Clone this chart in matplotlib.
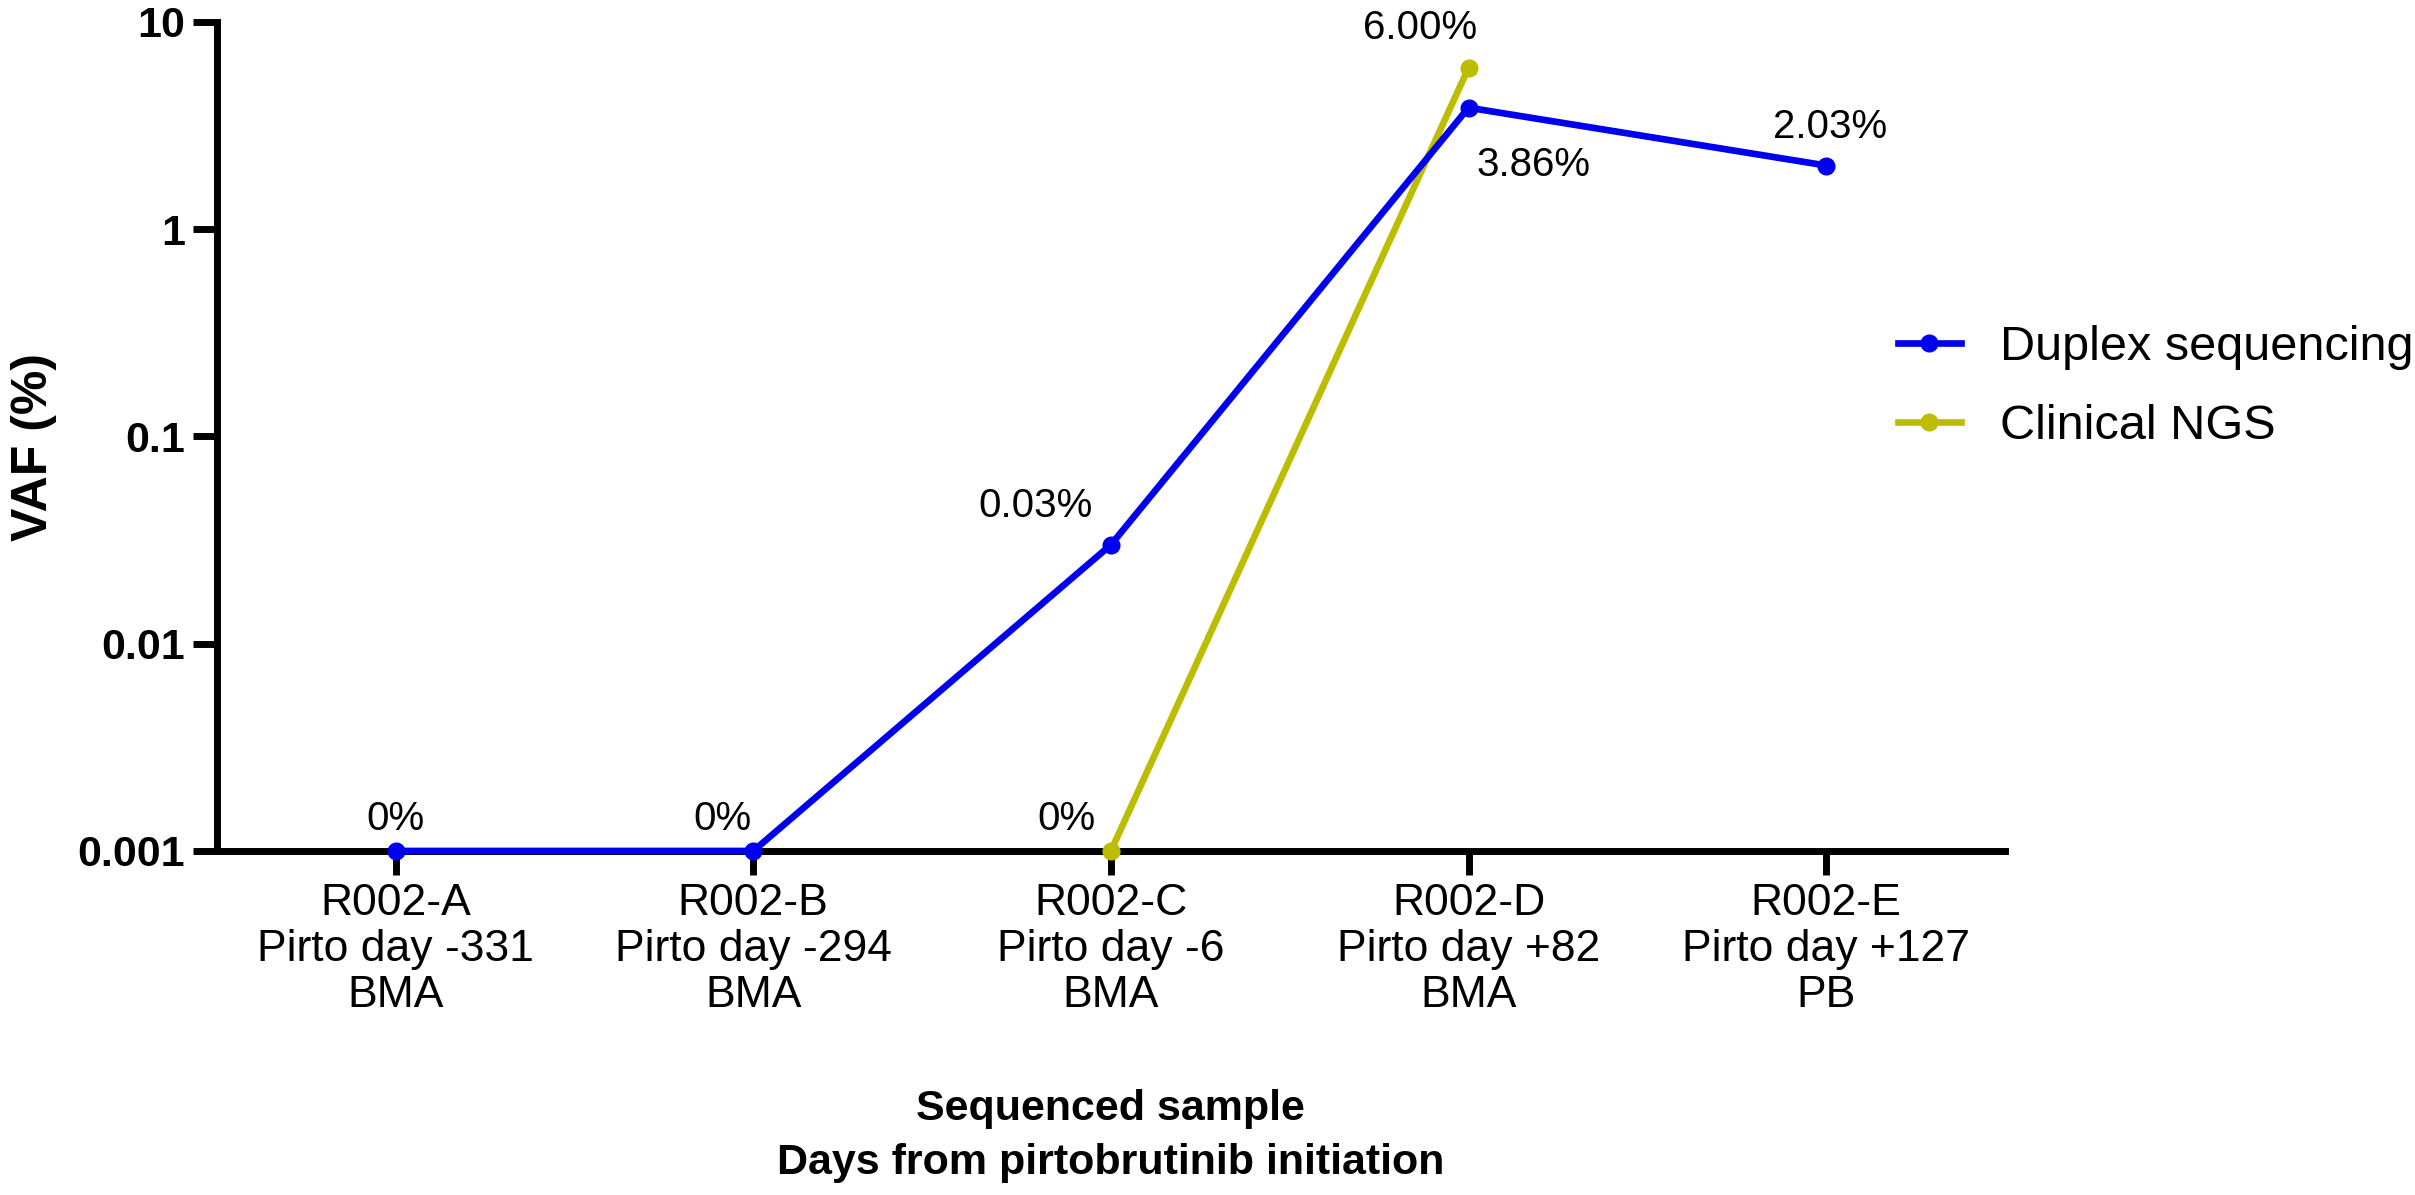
import matplotlib
matplotlib.use("Agg")
from matplotlib import pyplot as plt
import numpy as np

plt.rcParams['font.family'] = ['Liberation Sans', 'DejaVu Sans']

# data
samples = ["R002-A\nPirto day -331\nBMA",
           "R002-B\nPirto day -294\nBMA",
           "R002-C\nPirto day -6\nBMA",
           "R002-D\nPirto day +82\nBMA",
           "R002-E\nPirto day +127\nPB"]
duplex_vaf = [0, 0, 0.03, 3.86, 2.03]
duplex_labels = ["0%", "0%", "0.03%", "3.86%", "2.03%"]
clinical_idx = [2, 3]
clinical_vaf = [0, 6.00]
clinical_labels = ["0%", "6.00%"]
y_floor = 0.001   # zero values sit on the axis floor

blue = "#0000EE"
olive = "#BDBD00"

fig = plt.figure(figsize=(24.15, 11.95), dpi=100)
ax = fig.add_axes([0.0898, 0.2879, 0.8302 - 0.0898, 0.9816 - 0.2879])

x = np.arange(len(samples))
dup_y = np.where(np.array(duplex_vaf) == 0, y_floor, duplex_vaf)
cli_y = np.where(np.array(clinical_vaf) == 0, y_floor, clinical_vaf)

ax.plot(x, dup_y, color=blue, lw=4.8, marker='o', ms=12, clip_on=False,
        zorder=5, label="Duplex sequencing")
ax.plot(x[clinical_idx], cli_y, color=olive, lw=4.8, marker='o', ms=12,
        clip_on=False, zorder=4, label="Clinical NGS")

# point labels (offsets in points)
dup_off = [(0, 23), (-22, 23), (-54, 28), (47, -41), (3, 28)]
for xi, yi, lab, off in zip(x, dup_y, duplex_labels, dup_off):
    ax.annotate(lab, (xi, yi), xytext=off, textcoords='offset points',
                ha='center', va='center', fontsize=29, annotation_clip=False)
cli_off = [(-32, 23), (-35, 29)]
for xi, yi, lab, off in zip(x[clinical_idx], cli_y, clinical_labels, cli_off):
    ax.annotate(lab, (xi, yi), xytext=off, textcoords='offset points',
                ha='center', va='center', fontsize=29, annotation_clip=False)

ax.set_yscale('log')
ax.set_ylim(0.001, 10)
ax.set_xlim(-0.5, 4.5)
ax.set_yticks([0.001, 0.01, 0.1, 1, 10])
ax.set_yticklabels(["0.001", "0.01", "0.1", "1", "10"], fontweight='bold', fontsize=31)
ax.minorticks_off()
ax.set_xticks(x)
ax.set_xticklabels(samples, fontsize=32, linespacing=1.15)

for s in ['top', 'right']:
    ax.spines[s].set_visible(False)
for s in ['left', 'bottom']:
    ax.spines[s].set_linewidth(5)
ax.tick_params(axis='both', width=5, length=17, pad=6)

ax.set_ylabel("VAF (%)", fontsize=36, fontweight='bold')
ax.yaxis.set_label_coords(-0.102, 0.487)
ax.yaxis.label.set_va('center')
ax.set_xlabel("Sequenced sample\nDays from pirtobrutinib initiation",
              fontsize=31, fontweight='bold', linespacing=1.45)
ax.xaxis.set_label_coords(0.5, -0.344)
ax.xaxis.label.set_va('center')

fig.legend(loc='center left', bbox_to_anchor=(0.7757, 0.676), frameon=False,
           fontsize=35, handlelength=1.3, handletextpad=0.8,
           labelspacing=0.7, borderpad=0)

plt.savefig("out.png", dpi=100)
